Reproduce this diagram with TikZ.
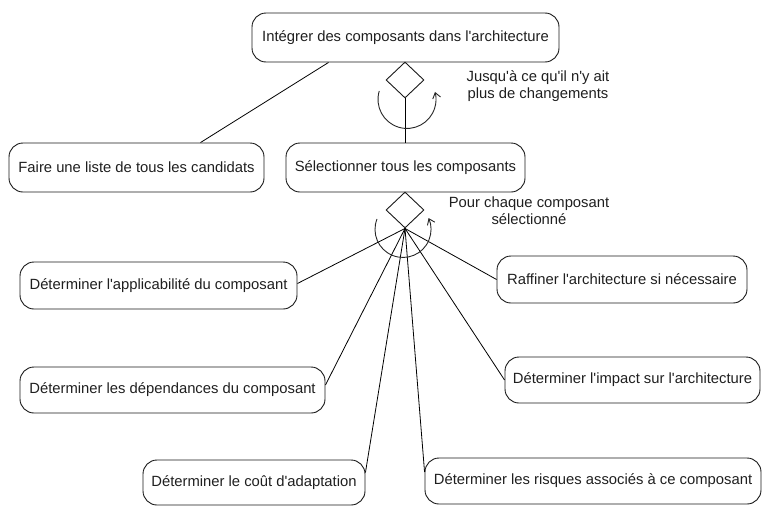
\documentclass[tikz,border=0pt]{standalone}
\usepackage{fontspec}
\setmainfont{Liberation Sans}[Ligatures=TeXOff]
\usetikzlibrary{shapes.geometric,arrows.meta,calc}
\begin{document}
\begin{tikzpicture}[x=1pt,y=-1pt,
  activity/.style={draw=black!90, line width=0.9pt, rounded corners=14pt,
    inner sep=0pt, align=center, text=black!88,
    font=\fontsize{14.8}{17}\selectfont},
  forknode/.style={draw=black!90, line width=0.9pt, diamond,
    minimum width=38pt, minimum height=36pt, inner sep=0pt},
  connector/.style={draw=black, line width=0.8pt},
  turnarrow/.style={draw=black!85, line width=0.9pt,
    -{Straight Barb[length=5.5pt,width=8pt]}},
  guard/.style={align=center, text=black!88, inner sep=0pt,
    font=\fontsize{14.8}{17}\selectfont}]

\useasboundingbox (0,0) rectangle (762,506);

% activities
\node[activity, minimum width=307pt, minimum height=49pt] (integrer) at (405.5,37.5)
  {Intégrer des composants dans l'architecture};
\node[activity, minimum width=255pt, minimum height=49pt] (faire) at (136.5,167.5)
  {Faire une liste de tous les candidats};
\node[activity, minimum width=239pt, minimum height=49pt] (select) at (405.5,167.5)
  {Sélectionner tous les composants};
\node[activity, minimum width=277pt, minimum height=47pt] (applic) at (158.5,285.5)
  {Déterminer l'applicabilité du composant};
\node[activity, minimum width=250pt, minimum height=47pt] (raffiner) at (622,279.5)
  {Raffiner l'architecture si nécessaire};
\node[activity, minimum width=305pt, minimum height=46pt] (depend) at (172.5,390)
  {Déterminer les dépendances du composant};
\node[activity, minimum width=255pt, minimum height=46pt] (impact) at (632.5,380)
  {Déterminer l'impact sur l'architecture};
\node[activity, minimum width=222pt, minimum height=45pt] (cout) at (254,482.5)
  {Déterminer le coût d'adaptation};
\node[activity, minimum width=336pt, minimum height=46pt] (risques) at (593,481)
  {Déterminer les risques associés à ce composant};

% decision / iteration points
\node[forknode] (d1) at (405,80) {};
\node[forknode] (d2) at (405,210) {};

% iteration guards
\node[guard] (g1) at (538,86.5) {Jusqu'à ce qu'il n'y ait\\plus de changements};
\node[guard] (g2) at (529,210.5) {Pour chaque composant\\sélectionné};

% connectors
\draw[connector] ($(integrer.south west)!0.25!(integrer.south east)$)
  -- ($(faire.north west)!0.75!(faire.north east)$);
\draw[connector] (d1.south) -- (d1.south |- select.north);

\draw[connector] (d2.south) -- ($(applic.east)+(0,-2)$);
\draw[connector] (d2.south) -- (raffiner.west);
\draw[connector] (d2.south) -- ($(depend.east)+(0,-5)$);
\draw[connector] (d2.south) -- (impact.west);
\draw[connector] (d2.south) -- ($(cout.east)+(0,-10)$);
\draw[connector] (d2.south) -- ($(risques.west)+(0,-9)$);

% iteration arrows
\draw[turnarrow] ($(d1.south)+(2,1)+(197:29)$) arc[start angle=197, end angle=-15, radius=29];
\draw[turnarrow] ($(d2.south)+(-2,1)+(202:28)$) arc[start angle=202, end angle=-24, radius=28];

\end{tikzpicture}
\end{document}
